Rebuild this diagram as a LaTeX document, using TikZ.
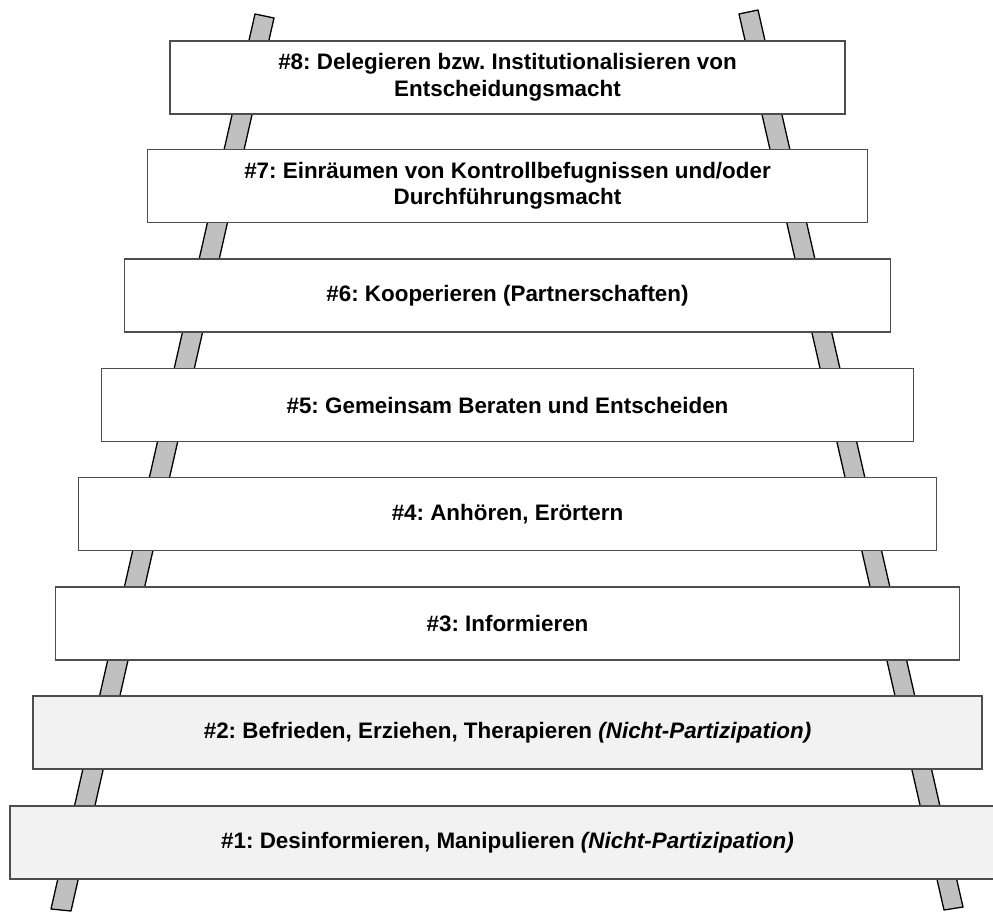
\documentclass[tikz,border=0pt]{standalone}
\usepackage{fontspec}
\setmainfont{Liberation Sans}
\definecolor{railgray}{HTML}{C0C0C0}
\definecolor{boxedge}{HTML}{4D4D4D}
\definecolor{lightfill}{HTML}{F2F2F2}
\begin{document}
\frenchspacing
\begin{tikzpicture}[x=1pt,y=-1pt,
  rail/.style={fill=railgray,draw=black,line width=1.3pt,line join=round},
  rung/.style={rectangle,draw=boxedge,line width=1.1pt,fill=white,minimum height=73pt,
    align=center,inner sep=0pt,font=\fontsize{22.4}{26.5}\selectfont\bfseries},
  grayrung/.style={rung,fill=lightfill}]
\useasboundingbox (0,0) rectangle (993,911);
\begin{scope}
\clip (0,0) rectangle (993,911);
% rails
\draw[rail] (255,14) -- (274,18) -- (71,911) -- (51,909) -- cycle;
\draw[rail] (739,14) -- (758,10) -- (963,907) -- (944,910) -- cycle;
% rungs
\node[rung,minimum width=675pt] (r8) at (507.5,77.5) {\#8: Delegieren bzw. Institutionalisieren von\\Entscheidungsmacht};
\node[rung,minimum width=720pt] (r7) at (507.5,186) {\#7: Einräumen von Kontrollbefugnissen und/oder\\Durchführungsmacht};
\node[rung,minimum width=766pt] (r6) at (507.5,295.5) {\#6: Kooperieren (Partnerschaften)};
\node[rung,minimum width=812pt] (r5) at (507.5,405) {\#5: Gemeinsam Beraten und Entscheiden};
\node[rung,minimum width=858pt] (r4) at (507.5,514) {\#4: Anhören, Erörtern};
\node[rung,minimum width=904pt] (r3) at (507.5,623.5) {\#3: Informieren};
\node[grayrung,minimum width=949pt] (r2) at (507.5,732.5) {\#2: Befrieden, Erziehen, Therapieren \textit{(Nicht-Partizipation)}};
\node[grayrung,minimum width=995pt] (r1) at (507.5,842.5) {\#1: Desinformieren, Manipulieren \textit{(Nicht-Partizipation)}};
\end{scope}
\end{tikzpicture}
\end{document}
